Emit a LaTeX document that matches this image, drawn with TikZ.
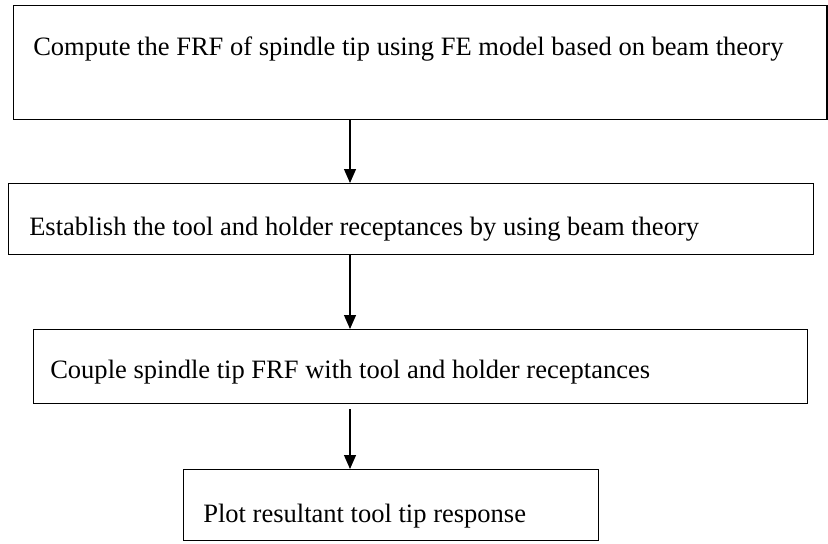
\documentclass[tikz,border=0pt]{standalone}
\usepackage{fontspec}
\setmainfont{Liberation Serif}
\usetikzlibrary{arrows.meta}
\begin{document}
\begin{tikzpicture}[x=0.75pt,y=-0.75pt,
  stepbox/.style={draw=black, line width=1.1pt, inner sep=0pt, anchor=north west},
  steptext/.style={anchor=base west, inner sep=0pt, font=\fontsize{19.9pt}{24pt}\selectfont},
  flow/.style={draw=black, line width=0.9pt, -{Triangle[width=9pt,length=10.5pt]}}]
\useasboundingbox (0,0) rectangle (828,543);

% process boxes
\node[stepbox, minimum width=610.1pt, minimum height=85.5pt] (b1) at (13,5) {};
\node[stepbox, minimum width=603.75pt, minimum height=53.25pt] (b2) at (8,183) {};
\node[stepbox, minimum width=580.5pt, minimum height=55.5pt] (b3) at (33,329) {};
\node[stepbox, minimum width=311.25pt, minimum height=53.25pt] (b4) at (183,469) {};

% box labels
\node[steptext] (t1) at (33,55) {Compute the FRF of spindle tip using FE model based on beam theory};
\node[steptext] (t2) at (29,235) {Establish the tool and holder receptances by using beam theory};
\node[steptext] (t3) at (50,378) {Couple spindle tip FRF with tool and holder receptances};
\node[steptext] (t4) at (203,522) {Plot resultant tool tip response};

% vertical flow arrows
\coordinate (ax) at (350,0);
\draw[flow] (b1.south -| ax) -- (b2.north -| ax);
\draw[flow] (b2.south -| ax) -- (b3.north -| ax);
\draw[flow, shorten <=3.75pt] (b3.south -| ax) -- (b4.north -| ax);
\end{tikzpicture}
\end{document}
